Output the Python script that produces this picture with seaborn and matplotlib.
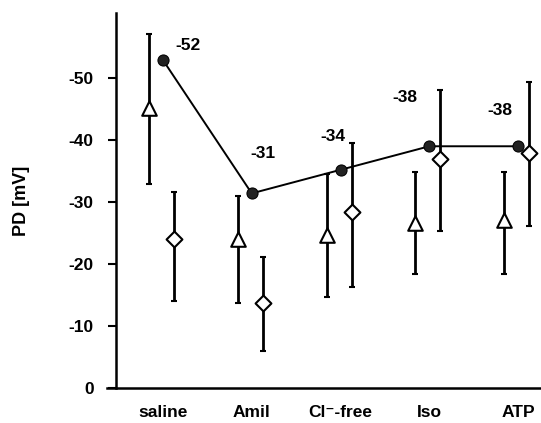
import matplotlib
matplotlib.use('Agg')
import matplotlib.pyplot as plt
import seaborn as sns
import pandas as pd

# data (PD in mV, negative values)
categories = ['saline', 'Amil', 'Cl\u207b-free', 'Iso', 'ATP']
circle_pd = [-52.9, -31.4, -35.2, -39.0, -39.0]
circle_labels = ['-52', '-31', '-34', '-38', '-38']
triangle_pd = [-45.2, -24.0, -24.7, -26.7, -27.1]
triangle_err_hi = [-57.1, -30.9, -34.6, -34.9, -34.9]
triangle_err_lo = [-32.9, -13.7, -14.7, -18.4, -18.4]
diamond_pd = [-24.0, -13.7, -28.4, -37.0, -37.9]
diamond_err_hi = [-31.6, -21.2, -39.5, -48.1, -49.4]
diamond_err_lo = [-14.0, -6.0, -16.3, -25.4, -26.2]
y_ticks = [0, -10, -20, -30, -40, -50]

sns.set_theme(style='ticks')
plt.rcParams['font.family'] = ['Liberation Sans', 'DejaVu Sans']
plt.rcParams['font.weight'] = 'bold'
for k in ['text.color', 'xtick.color', 'ytick.color', 'axes.labelcolor', 'axes.edgecolor']:
    plt.rcParams[k] = 'black'

fig = plt.figure(figsize=(5.41, 4.23), dpi=100)
ax = fig.add_axes([107 / 541, 35 / 423, 434 / 541, 375 / 423])

x = list(range(len(categories)))
tri_off, dia_off = -0.155, 0.125

df_c = pd.DataFrame({'x': x, 'pd': circle_pd})
df_t = pd.DataFrame({'x': [i + tri_off for i in x], 'pd': triangle_pd})
df_d = pd.DataFrame({'x': [i + dia_off for i in x], 'pd': diamond_pd})

# error bars for open symbols (hi = more negative end)
for df, hi, lo in [(df_t, triangle_err_hi, triangle_err_lo),
                   (df_d, diamond_err_hi, diamond_err_lo)]:
    yerr = [[df['pd'][i] - hi[i] for i in x], [lo[i] - df['pd'][i] for i in x]]
    ax.errorbar(df['x'], df['pd'], yerr=yerr, fmt='none', ecolor='black',
                elinewidth=2, capsize=2.5, capthick=1.5, zorder=2)

sns.lineplot(data=df_c, x='x', y='pd', ax=ax, color='black', linewidth=1.4,
             marker='o', markersize=8, markerfacecolor='#222222',
             markeredgecolor='black', zorder=4)
sns.scatterplot(data=df_t, x='x', y='pd', ax=ax, marker='^', s=110,
                facecolor='white', edgecolor='black', linewidth=1.5, zorder=3)
sns.scatterplot(data=df_d, x='x', y='pd', ax=ax, marker='D', s=65,
                facecolor='white', edgecolor='black', linewidth=1.5, zorder=3)

# value labels above circles
label_dx = [0.28, 0.13, -0.085, -0.27, -0.2]
label_dy = [-2.4, -6.5, -5.4, -7.8, -5.7]
for i, lab in enumerate(circle_labels):
    ax.text(x[i] + label_dx[i], circle_pd[i] + label_dy[i], lab, ha='center',
            va='center', fontsize=12.5, fontweight='bold')

ax.set_xlim((107 - 163) / 88.75, (541 - 163) / 88.75)
ax.set_ylim(0, -60.5)
ax.spines['left'].set_position(('data', (116 - 163) / 88.75))
ax.spines['left'].set_linewidth(1.8)
ax.spines['bottom'].set_linewidth(1.8)
sns.despine(ax=ax)

ax.set_xticks(x)
ax.set_xticklabels(categories, fontsize=12.5, fontweight='bold')
ax.tick_params(axis='x', length=0, pad=12)
ax.set_yticks(y_ticks)
ax.set_yticklabels([str(t) for t in y_ticks], fontsize=12.5, fontweight='bold')
ax.tick_params(axis='y', length=6, width=1.5, pad=10)
ax.set_xlabel('')
ax.set_ylabel('PD [mV]', fontsize=13, fontweight='bold', labelpad=28)

fig.savefig('out.png', dpi=100)
plt.close(fig)
